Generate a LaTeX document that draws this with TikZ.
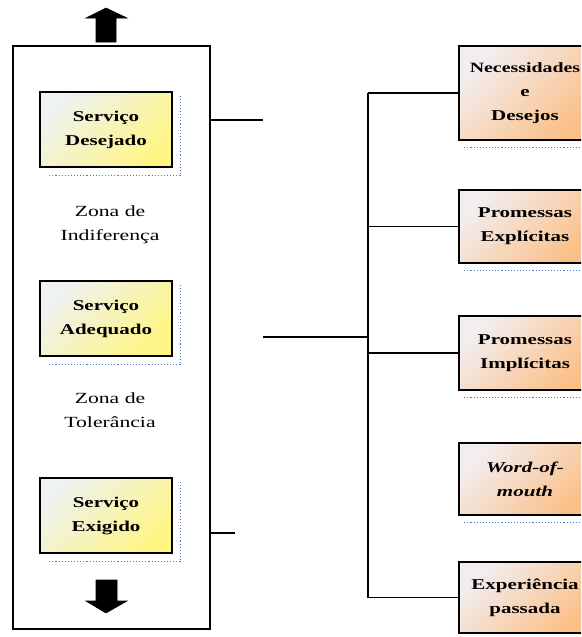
\documentclass[tikz,border=0pt]{standalone}
\usepackage{fontspec}
\setmainfont{Liberation Serif}
\newfontfamily\boxfont[FakeStretch=1.4]{Liberation Serif}
\definecolor{ylA}{HTML}{EEF2F0}
\definecolor{ylM}{HTML}{FAF3A8}
\definecolor{ylB}{HTML}{FFF585}
\definecolor{orA}{HTML}{F2EEF0}
\definecolor{orM}{HTML}{F8D2B0}
\definecolor{orB}{HTML}{FBC088}
\definecolor{shadowblue}{HTML}{4A78D0}
\tikzset{
  conn/.style={line width=1.3pt, black},
  boxtext/.style={font=\boxfont\bfseries\fontsize{15}{24}\selectfont},
  servbox/.style={draw, line width=1.6pt, minimum width=132pt, minimum height=75pt,
    inner sep=0pt, align=center, left color=ylA, middle color=ylM, right color=ylB,
    shading angle=45, boxtext},
  srcbox/.style={draw, line width=1.6pt, minimum width=132pt, inner sep=0pt,
    align=center, left color=orA, middle color=orM, right color=orB,
    shading angle=45, boxtext},
  zonetext/.style={align=center, font=\boxfont\fontsize{15.5}{24}\selectfont},
  dotshadow/.style={shadowblue, line width=1.1pt, dotted},
  blockarrow/.style={fill=black, draw=black, line width=0.6pt, line join=miter}
}
\begin{document}
\begin{tikzpicture}[x=1pt, y=-1pt]
\useasboundingbox (0,0) rectangle (581,637);
\clip (0,0) rectangle (581,637);

% service-level frame
\node (frame) [draw, line width=1.2pt, minimum width=197pt, minimum height=583pt, inner sep=0pt] at (111.5,337.5) {};

% levels of expected service
\node (des) [servbox] at (106,129.5) {Serviço\\Desejado};
\node (ade) [servbox] at (106,318.5) {Serviço\\Adequado};
\node (exi) [servbox] at (106,515.5) {Serviço\\Exigido};

\foreach \b in {des,ade,exi}{
  \draw[dotshadow] ([xshift=10pt,yshift=-8pt]\b.south west) -- ([xshift=8pt,yshift=-8pt]\b.south east)
    -- ([xshift=8pt,yshift=-5pt]\b.north east);
}

% zones
\node (zind) [zonetext] at (110,225) {Zona de\\Indiferença};
\node (ztol) [zonetext] at (110,410) {Zona de\\Tolerância};

% up and down arrows
\draw[blockarrow] (106,8) -- (127,18) -- (116,18) -- (116,42) -- (96,42) -- (96,18) -- (86,18) -- cycle;
\draw[blockarrow] (96,580) -- (117,580) -- (117,601) -- (127,601) -- (106,613) -- (86,601) -- (96,601) -- cycle;

% sources of expectations
\node (nec) [srcbox, minimum height=94pt] at (525,93) {{\fontsize{14.2}{24}\selectfont Necessidades}\\e\\Desejos};
\node (pex) [srcbox, minimum height=73pt] at (525,226.5) {Promessas\\Explícitas};
\node (pim) [srcbox, minimum height=74pt] at (525,353) {Promessas\\Implícitas};
\node (wom) [srcbox, minimum height=72pt] at (525,479) {\itshape Word-of-\\\itshape mouth};
\node (exp) [srcbox, minimum height=71pt] at (525,597.5) {Experiência\\passada};

\foreach \b in {nec,pex,pim,wom,exp}{
  \draw[dotshadow] ([xshift=6pt,yshift=-7pt]\b.south west) -- ([xshift=8pt,yshift=-7pt]\b.south east);
}

% connectors
\coordinate (c1) at (263,120);
\coordinate (c2) at (263,337);
\coordinate (c3) at (235,533);
\coordinate (bus) at (368,0);
\draw[conn] (frame.east |- c1) -- (c1);
\draw[conn] (frame.east |- c3) -- (c3);
\draw[conn] (c2) -- (c2 -| bus);
\draw[conn] (nec.west -| bus) -- (exp.west -| bus);
\foreach \b in {nec,pex,pim,exp}{
  \draw[conn] (\b.west) -- (\b.west -| bus);
}
\end{tikzpicture}
\end{document}
